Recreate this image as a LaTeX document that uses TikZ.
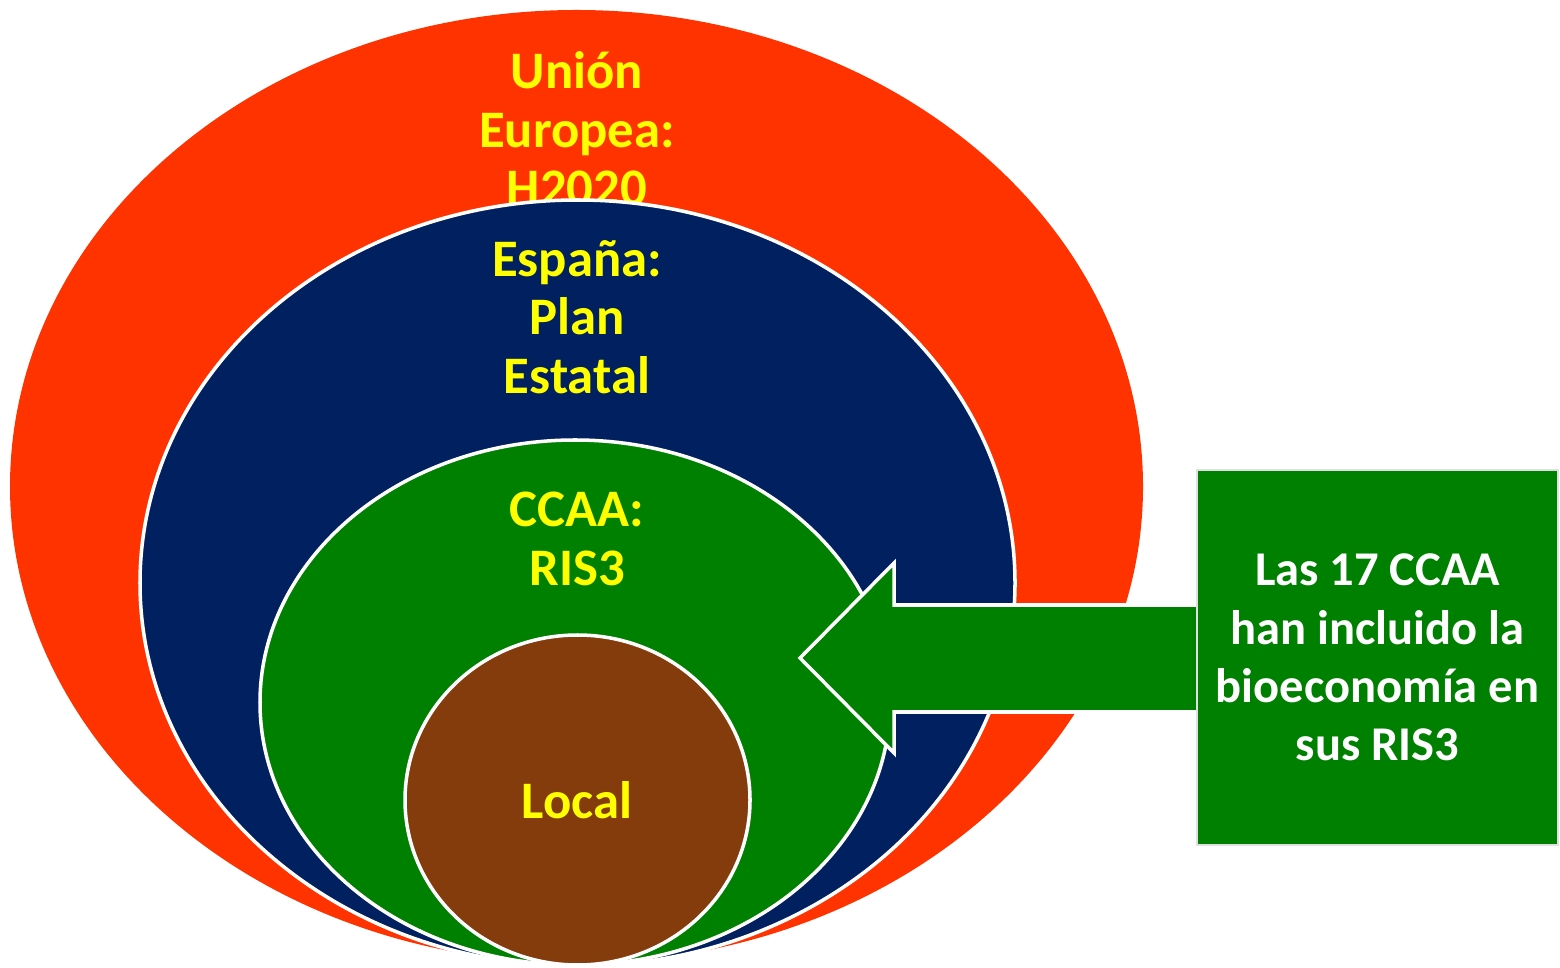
\documentclass[tikz,border=0pt]{standalone}
\usepackage{fontspec}
\setmainfont{Carlito}
\definecolor{euRed}{HTML}{FF3300}
\definecolor{esNavy}{HTML}{002060}
\definecolor{ccGreen}{HTML}{008000}
\definecolor{locBrown}{HTML}{843C0C}
\definecolor{lblYellow}{HTML}{FFFF00}
\tikzset{
  level/.style={draw=white, line width=1pt},
  lbl/.style={text=lblYellow, align=center, inner sep=0pt,
    font=\fontsize{15}{16.6}\selectfont\bfseries}
}
\begin{document}
\begin{tikzpicture}
\useasboundingbox (0,0) rectangle (15.6,9.67);

% Union Europea
\fill[euRed] (5.765,4.805) ellipse [x radius=5.665, y radius=4.765];
\node[lbl] (ue) at (5.77,8.38) {Unión\\Europea:\\H2020};

% Espana
\filldraw[level, fill=esNavy] (5.775,3.84) ellipse [x radius=4.375, y radius=3.83];
\node[lbl] (es) at (5.77,6.50) {España:\\Plan\\Estatal};

% CCAA
\filldraw[level, fill=ccGreen] (5.75,2.645) ellipse [x radius=3.15, y radius=2.625];
\node[lbl] (cc) at (5.77,4.28) {CCAA:\\RIS3};

% Local
\filldraw[level, fill=locBrown] (5.775,1.67) ellipse [x radius=1.725, y radius=1.65];
\node[lbl] (loc) at (5.77,1.67) {Local};

% flecha
\filldraw[level, fill=ccGreen] (11.97,3.62) -- (8.94,3.62) -- (8.94,4.04)
  -- (8.00,3.09) -- (8.94,2.14) -- (8.94,2.55) -- (11.97,2.55);

% recuadro
\node[draw=black!12, line width=0.6pt, fill=ccGreen, text=white, align=center,
  minimum width=3.61cm, minimum height=3.75cm, inner sep=0pt,
  font=\fontsize{13.8}{16.6}\selectfont\bfseries] (box) at (13.775,3.095)
  {Las 17 CCAA\\han incluido la\\bioeconomía en\\sus RIS3};
\end{tikzpicture}
\end{document}
